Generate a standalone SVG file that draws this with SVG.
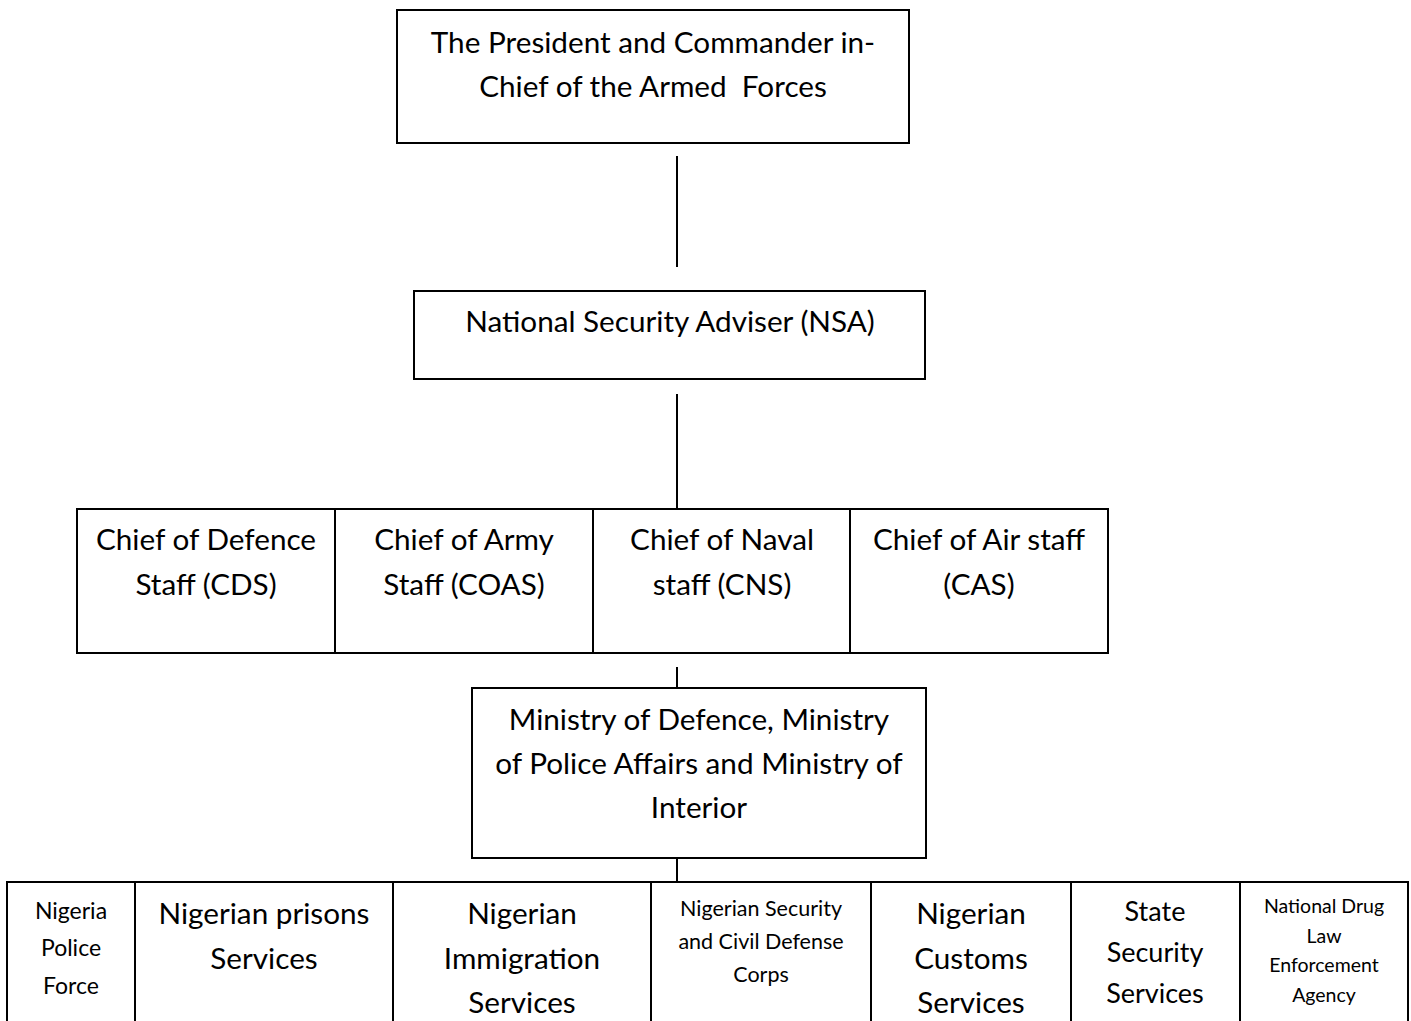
<svg xmlns="http://www.w3.org/2000/svg" width="1411" height="1021" viewBox="0 0 1411 1021">
<style>
rect{fill:#fff;stroke:#000;stroke-width:2}
line{stroke:#000;stroke-width:2}
text{font-family:Lato,"Open Sans",sans-serif;fill:#000;text-anchor:middle}
.l{font-size:29.7px}
.m{font-size:27px}
.s{font-size:23px}
.xs{font-size:21.5px}
.xxs{font-size:19.5px}
</style>
<rect x="0" y="0" width="1411" height="1021" style="stroke:none"/>
<g id="connectors">
<line x1="677" y1="156" x2="677" y2="267"/>
<line x1="677" y1="394" x2="677" y2="518"/>
<line x1="677" y1="667" x2="677" y2="688"/>
<line x1="677" y1="858" x2="677" y2="882"/>
</g>
<g id="president">
<rect x="397" y="10" width="512" height="133"/>
<text class="l" x="653" y="53">The President and Commander in-</text>
<text class="l" x="653" y="97" xml:space="preserve" style="white-space:pre">Chief of the Armed  Forces</text>
</g>
<g id="nsa">
<rect x="414" y="291" width="511" height="88"/>
<text class="l" x="670" y="332">National Security Adviser (NSA)</text>
</g>
<g id="cds">
<rect x="77" y="509" width="258" height="144"/>
<text class="l" x="206" y="550">Chief of Defence</text>
<text class="l" x="206" y="595">Staff (CDS)</text>
</g>
<g id="coas">
<rect x="335" y="509" width="258" height="144"/>
<text class="l" x="464" y="550">Chief of Army</text>
<text class="l" x="464" y="595">Staff (COAS)</text>
</g>
<g id="cns">
<rect x="593" y="509" width="257" height="144"/>
<text class="l" x="722" y="550">Chief of Naval</text>
<text class="l" x="722" y="595">staff (CNS)</text>
</g>
<g id="cas">
<rect x="850" y="509" width="258" height="144"/>
<text class="l" x="979" y="550">Chief of Air staff</text>
<text class="l" x="979" y="595">(CAS)</text>
</g>
<g id="ministry">
<rect x="472" y="688" width="454" height="170"/>
<text class="l" x="699" y="730">Ministry of Defence, Ministry</text>
<text class="l" x="699" y="774">of Police Affairs and Ministry of</text>
<text class="l" x="699" y="818">Interior</text>
</g>
<g id="police">
<rect x="7" y="882" width="128" height="150"/>
<text class="s" x="71" y="919">Nigeria</text>
<text class="s" x="71" y="956">Police</text>
<text class="s" x="71" y="994">Force</text>
</g>
<g id="prisons">
<rect x="135" y="882" width="258" height="150"/>
<text class="l" x="264" y="924">Nigerian prisons</text>
<text class="l" x="264" y="969">Services</text>
</g>
<g id="immigration">
<rect x="393" y="882" width="258" height="150"/>
<text class="l" x="522" y="924">Nigerian</text>
<text class="l" x="522" y="969">Immigration</text>
<text class="l" x="522" y="1013">Services</text>
</g>
<g id="nscdc">
<rect x="651" y="882" width="220" height="150"/>
<text class="xs" x="761" y="916">Nigerian Security</text>
<text class="xs" x="761" y="949">and Civil Defense</text>
<text class="xs" x="761" y="982">Corps</text>
</g>
<g id="customs">
<rect x="871" y="882" width="200" height="150"/>
<text class="l" x="971" y="924">Nigerian</text>
<text class="l" x="971" y="969">Customs</text>
<text class="l" x="971" y="1013">Services</text>
</g>
<g id="sss">
<rect x="1071" y="882" width="169" height="150"/>
<text class="m" x="1155" y="921">State</text>
<text class="m" x="1155" y="962">Security</text>
<text class="m" x="1155" y="1003">Services</text>
</g>
<g id="ndlea">
<rect x="1240" y="882" width="168" height="150"/>
<text class="xxs" x="1324" y="913">National Drug</text>
<text class="xxs" x="1324" y="943">Law</text>
<text class="xxs" x="1324" y="972">Enforcement</text>
<text class="xxs" x="1324" y="1002">Agency</text>
</g>
</svg>
